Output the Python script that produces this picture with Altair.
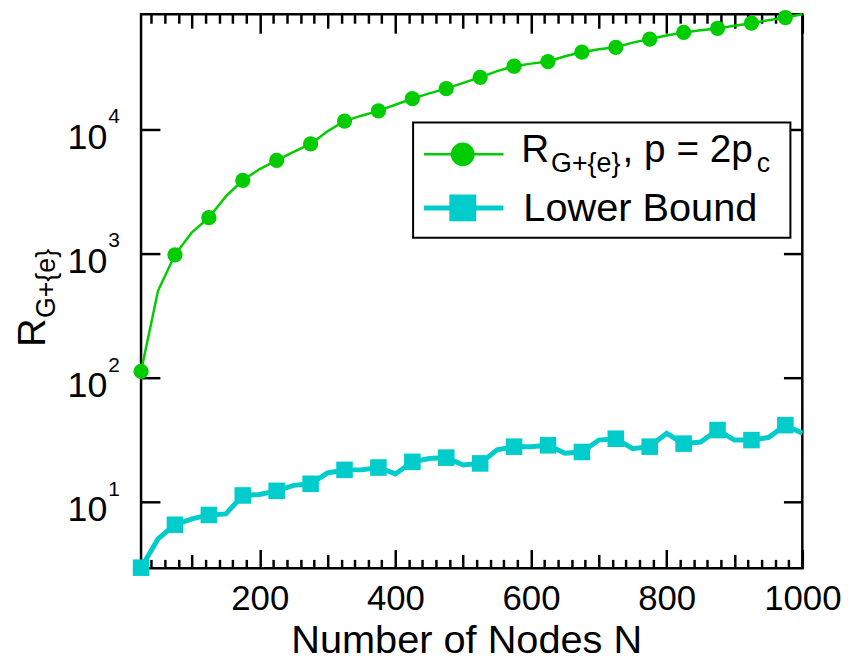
import altair as alt
import pandas as pd

# ---- data ----
N_VALUES = [25, 50, 75, 100, 125, 150, 175, 200, 225, 250, 275, 300, 325, 350, 375, 400,
            425, 450, 475, 500, 525, 550, 575, 600, 625, 650, 675, 700, 725, 750, 775, 800,
            825, 850, 875, 900, 925, 950, 975, 1000]
R_VALUES = [112, 500, 975, 1480, 1941, 2880, 3890, 4790, 5620, 6600, 7640, 9660, 11670, 12900,
            14100, 15800, 17700, 19500, 21300, 23700, 26300, 29500, 32300, 33900, 35200, 38900,
            41900, 44200, 45900, 50100, 53500, 57100, 60500, 63100, 65100, 68500, 71800, 75900,
            79800, 84700]
LB_VALUES = [2.93, 5.0, 6.5, 7.25, 7.8, 7.95, 11.2, 11.4, 12.2, 13.5, 13.9, 17.0, 18.0, 18.0,
             18.8, 16.7, 20.9, 22.2, 22.6, 19.7, 20.3, 26.1, 27.7, 27.7, 28.4, 24.5, 25.1, 31.3,
             32.1, 26.7, 27.7, 35.5, 29.3, 30.2, 37.7, 31.3, 31.3, 32.8, 41.3, 35.5]
MARKER_N = [25, 75, 125, 175, 225, 275, 325, 375, 425, 475, 525, 575, 625, 675, 725, 775,
            825, 875, 925, 975]
SERIES = ["R", "LB"]
X_LABEL_TICKS = [200, 400, 600, 800, 1000]
X_MINOR_TICKS = [40, 60, 80, 100, 120, 140, 160, 180, 200, 220, 240, 260, 280, 300, 320, 340,
                 360, 380, 400, 420, 440, 460, 480, 500, 520, 540, 560, 580, 600, 620, 640, 660,
                 680, 700, 720, 740, 760, 780, 800, 820, 840, 860, 880, 900, 920, 940, 960, 980,
                 1000]
Y_TICKS = [10, 100, 1000, 10000]
Y_TICK_EXP = ["1", "2", "3", "4"]

GREEN = "#00cc00"
CYAN = "#00cccc"
FONT = "Liberation Sans"
W, H = 666, 558

df = pd.DataFrame({
    "N": N_VALUES * 2,
    "v": R_VALUES + LB_VALUES,
    "s": [SERIES[0]] * len(N_VALUES) + [SERIES[1]] * len(N_VALUES),
})
df["marker"] = df["N"].isin(MARKER_N)
ticks_df = pd.DataFrame({"v": Y_TICKS, "e": Y_TICK_EXP})

xs = alt.Scale(domain=[25, 1000], nice=False, zero=False)
ys = alt.Scale(type="log", domain=[2.895, 84700], nice=False)

xsize = {"condition": [{"test": "datum.value % 200 === 0", "value": 19},
                       {"test": "datum.value % 100 === 0", "value": 14}], "value": 9}

base = alt.Chart(df)

green_line = base.transform_filter("datum.s == 'R'").mark_line(
    color=GREEN, strokeWidth=2.5).encode(
    x=alt.X("N:Q", scale=xs, axis=alt.Axis(orient="bottom", values=X_LABEL_TICKS, ticks=False,
                                           domain=False, grid=False, labelFontSize=35,
                                           labelPadding=13, labelFlush=False, format="d",
                                           labelFont=FONT, labelColor="black", title=None)),
    y=alt.Y("v:Q", scale=ys, axis=alt.Axis(orient="right", offset=-W, values=Y_TICKS,
                                           labels=False, tickSize=19, domain=False,
                                           grid=False, title=None)),
)

cyan_line = base.transform_filter("datum.s == 'LB'").mark_line(
    color=CYAN, strokeWidth=5).encode(
    x=alt.X("N:Q", scale=xs, axis=alt.Axis(orient="top", offset=-H, values=X_MINOR_TICKS,
                                           labels=False, tickSize=xsize, domain=False,
                                           grid=False, title=None)),
    y=alt.Y("v:Q", scale=ys, axis=alt.Axis(orient="left", offset=-W, values=Y_TICKS,
                                           labels=False, tickSize=19, domain=False,
                                           grid=False, title=None)),
)

green_pts = base.transform_filter("datum.s == 'R' && datum.marker").mark_point(
    shape="circle", filled=True, opacity=1, color=GREEN, size=236).encode(
    x=alt.X("N:Q", scale=xs, axis=alt.Axis(orient="bottom", offset=-H, values=X_MINOR_TICKS,
                                           labels=False, tickSize=xsize, domain=False,
                                           grid=False, title=None)),
    y=alt.Y("v:Q", scale=ys, axis=None),
)

cyan_pts = base.transform_filter("datum.s == 'LB' && datum.marker").mark_point(
    shape="square", filled=True, opacity=1, color=CYAN, size=278).encode(
    x=alt.X("N:Q", scale=xs, axis=None),
    y=alt.Y("v:Q", scale=ys, axis=None),
)

# y tick labels 10^k
ylab = alt.Chart(ticks_df).mark_text(
    align="right", baseline="alphabetic", fontSize=36, dy=20, font=FONT, color="black").encode(
    x=alt.value(-34), y=alt.Y("v:Q", scale=ys, axis=None), text=alt.value("10"))
yexp = alt.Chart(ticks_df).mark_text(
    align="left", baseline="alphabetic", fontSize=21, dy=-6, font=FONT, color="black").encode(
    x=alt.value(-33), y=alt.Y("v:Q", scale=ys, axis=None), text="e:N")

one = pd.DataFrame({"k": [0]})


def txt(s, x, y, size, angle=0):
    return alt.Chart(one).mark_text(align="left", baseline="alphabetic", fontSize=size,
                                    font=FONT, color="black", angle=angle).encode(
        x=alt.value(x), y=alt.value(y), text=alt.value(s))


# axis titles
xtitle = alt.Chart(one).mark_text(align="center", baseline="alphabetic", fontSize=40,
                                  font=FONT, color="black").encode(
    x=alt.value(328), y=alt.value(643), text=alt.value("Number of Nodes N"))
ytitle_r = txt("R", -97, 335, 40, 270)
ytitle_s = txt("G+{e}", -87, 306, 27, 270)

# legend
leg_box = alt.Chart(one).mark_rect(fill="white", stroke="black", strokeWidth=2).encode(
    x=alt.value(274), x2=alt.value(654), y=alt.value(109), y2=alt.value(225))
leg_l1 = alt.Chart(one).mark_rule(color=GREEN, strokeWidth=2.5).encode(
    x=alt.value(285), x2=alt.value(365), y=alt.value(141))
leg_l2 = alt.Chart(one).mark_rule(color=CYAN, strokeWidth=5).encode(
    x=alt.value(285), x2=alt.value(365), y=alt.value(195))
leg_p1 = alt.Chart(one).mark_point(shape="circle", filled=True, opacity=1, color=GREEN,
                                   size=573).encode(x=alt.value(324), y=alt.value(141))
leg_p2 = alt.Chart(one).mark_point(shape="square", filled=True, opacity=1, color=CYAN,
                                   size=729).encode(x=alt.value(324), y=alt.value(195))
leg_t1 = txt("R", 383, 149, 39)
leg_t2 = txt("G+{e}", 413, 159, 27)
leg_t3 = txt(", p = 2p", 485, 149, 39)
leg_t4 = txt("c", 620, 159, 27)
leg_t5 = txt("Lower Bound", 385, 208, 40)

chart = alt.layer(
    green_line, cyan_line, green_pts, cyan_pts, ylab, yexp, xtitle, ytitle_r, ytitle_s,
    leg_box, leg_l1, leg_l2, leg_p1, leg_p2, leg_t1, leg_t2, leg_t3, leg_t4, leg_t5,
).resolve_axis(x="independent", y="independent").properties(
    width=W, height=H, autosize="none",
    padding={"left": 134, "top": 4, "right": 45, "bottom": 93},
).configure_view(stroke="black", strokeWidth=2.5).configure_axis(
    tickColor="black", tickWidth=2.5, grid=False)

chart.save("out.html", embed_options={"renderer": "svg", "actions": False})
